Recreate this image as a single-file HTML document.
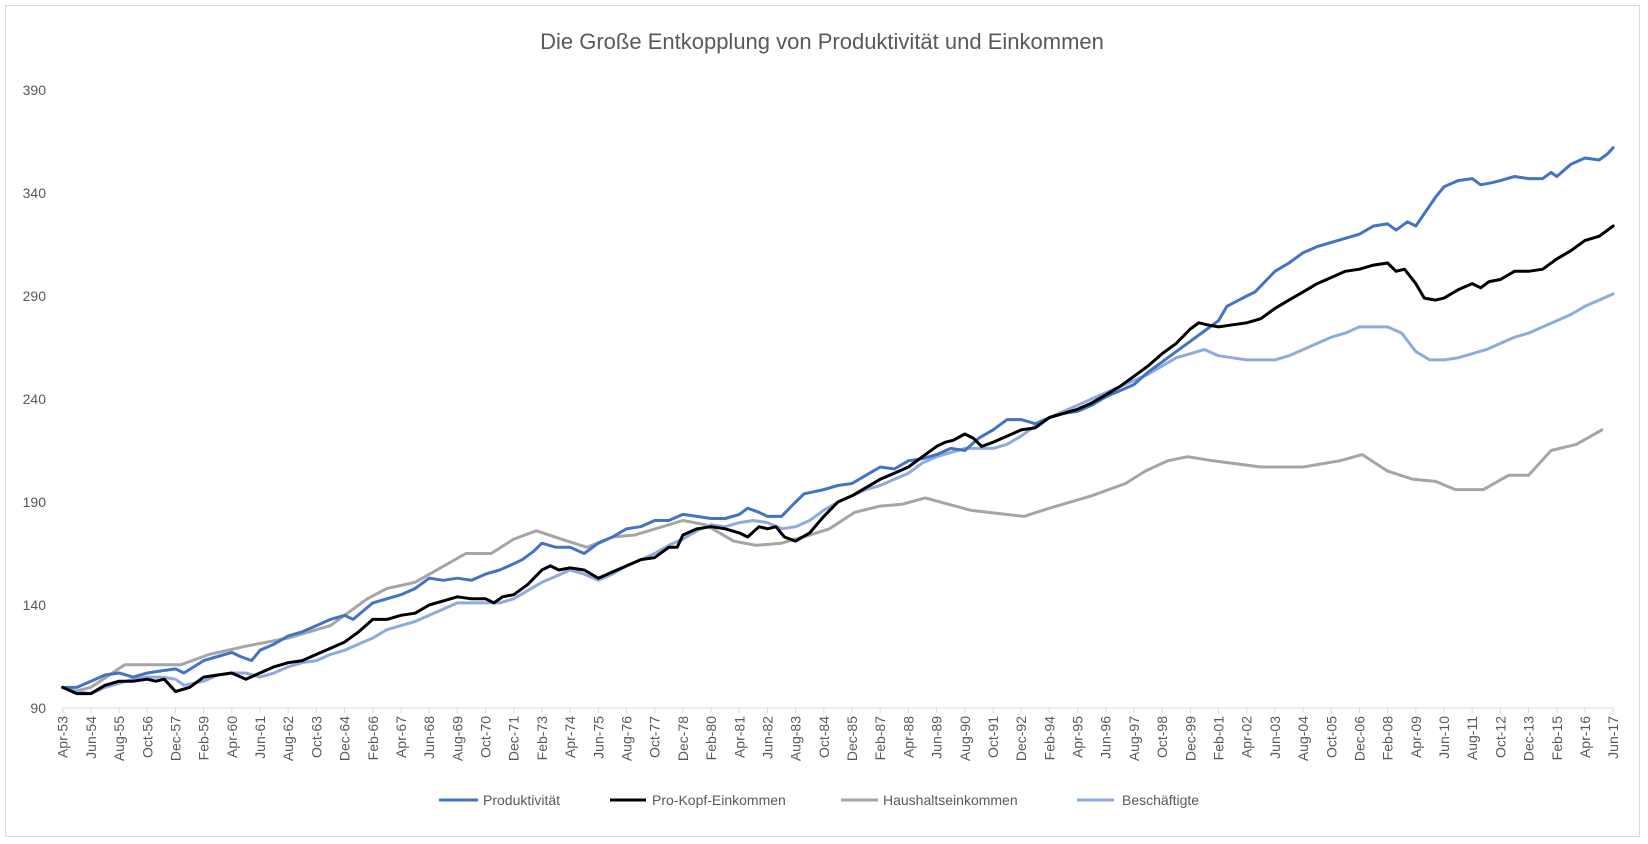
<!DOCTYPE html>
<html><head><meta charset="utf-8"><style>
html,body{margin:0;padding:0;background:#fff;}
svg{display:block;font-family:"Liberation Sans",sans-serif;}
</style></head><body>
<svg id="c" width="1648" height="844" xmlns="http://www.w3.org/2000/svg">
<rect x="5.5" y="5.5" width="1634" height="831" fill="#fff" stroke="#d9d9d9" stroke-width="1"/>
<text x="822" y="49" text-anchor="middle" font-size="22" fill="#595959">Die Große Entkopplung von Produktivität und Einkommen</text>
<g id="ax"></g>
<g id="ser" fill="none" stroke-width="3" stroke-linejoin="round" stroke-linecap="round"></g>
<g font-size="14" fill="#595959">
<line x1="439" y1="800" x2="478" y2="800" stroke="#4472C4" stroke-width="3"/><text x="483" y="805">Produktivität</text>
<line x1="610" y1="800" x2="646" y2="800" stroke="#000" stroke-width="3"/><text x="652" y="805">Pro-Kopf-Einkommen</text>
<line x1="841" y1="800" x2="878" y2="800" stroke="#A5A5A5" stroke-width="3"/><text x="883" y="805">Haushaltseinkommen</text>
<line x1="1077" y1="800" x2="1114" y2="800" stroke="#8FAADC" stroke-width="3"/><text x="1122" y="805">Beschäftigte</text>
</g>
</svg>
<script>
var X0=62.7,DX=28.19,Y0=708,K=2.06;
function X(i){return X0+i*DX;} function Y(v){return Y0-(v-90)*K;}
var ns="http://www.w3.org/2000/svg",ax=document.getElementById('ax'),h='';
for(var v=90;v<=390;v+=50){h+='<text x="46" y="'+(Y(v)+5)+'" text-anchor="end" font-size="14" fill="#595959">'+v+'</text>';}
h+='<line x1="'+X0+'" y1="'+Y0+'" x2="'+X(55)+'" y2="'+Y0+'" stroke="#d9d9d9" stroke-width="1"/>';
var mons=['Jan','Feb','Mar','Apr','May','Jun','Jul','Aug','Sep','Oct','Nov','Dec'];
for(var i=0;i<=55;i++){var m=3+14*i,yr=53+Math.floor(m/12),mm=m%12;var lab=mons[mm]+'-'+(''+(yr%100)).padStart(2,'0');
var x=X(i);h+='<line x1="'+x+'" y1="'+Y0+'" x2="'+x+'" y2="'+(Y0+5)+'" stroke="#d9d9d9"/>';
h+='<text transform="translate('+(x+5)+',716) rotate(-90)" text-anchor="end" font-size="14" fill="#595959">'+lab+'</text>';}
ax.innerHTML=h;
var S={
'#A5A5A5':[[0,100],[0.4,98],[1,100],[2.2,111],[4.2,111],[5.2,116],[6.5,120],[8,124],[9.5,130],[10.8,143],[11.5,148],[12.5,151],[14.3,165],[15.2,165],[16,172],[16.8,176],[17.9,171],[18.6,168],[19.5,173],[20.3,174],[22,181],[22.8,179],[23.8,171],[24.6,169],[25.5,170],[26.5,174],[27.2,177],[28.1,185],[29,188],[29.8,189],[30.6,192],[32.2,186],[34.1,183],[35,187],[36.5,193],[37.7,199],[38.4,205],[39.2,210],[39.9,212],[40.8,210],[42.5,207],[44,207],[45.3,210],[46.1,213],[47,205],[47.9,201],[48.7,200],[49.4,196],[50.4,196],[51.3,203],[52,203],[52.8,215],[53.7,218],[54.6,225]],
'#8FAADC':[[0,100],[0.5,98],[1,97],[1.5,100],[2,102],[2.5,104],[3,105],[3.5,105],[4,104],[4.3,101],[5,103],[5.5,106],[6,107],[6.5,107],[7,105],[7.5,107],[8,110],[8.5,112],[9,113],[9.5,116],[10,118],[10.5,121],[11,124],[11.5,128],[12,130],[12.5,132],[13,135],[13.5,138],[14,141],[15,141],[15.5,141],[16,143],[16.5,147],[17,151],[17.5,154],[18,157],[18.5,155],[19,152],[19.5,155],[20,159],[20.5,162],[21,165],[21.5,169],[22,172],[22.5,176],[23,179],[23.5,178],[24,180],[24.5,181],[25,180],[25.5,177],[26,178],[26.5,181],[27,186],[27.5,190],[28,193],[28.5,196],[29,198],[29.5,201],[30,204],[30.5,209],[31,212],[31.5,214],[32,216],[33,216],[33.5,218],[34,222],[34.5,227],[35,231],[35.5,234],[36,237],[36.5,240],[37,243],[37.5,246],[38,249],[38.5,252],[39,256],[39.5,260],[40,262],[40.5,264],[41,261],[41.5,260],[42,259],[43,259],[43.5,261],[44,264],[44.5,267],[45,270],[45.5,272],[46,275],[47,275],[47.5,272],[48,263],[48.5,259],[49,259],[49.5,260],[50,262],[50.5,264],[51,267],[51.5,270],[52,272],[52.5,275],[53,278],[53.5,281],[54,285],[54.5,288],[55,291]],
'#4472C4':[[0,100],[0.5,100],[1,103],[1.5,106],[2,107],[2.5,105],[3,107],[3.5,108],[4,109],[4.3,107],[5,113],[5.5,115],[6,117],[6.3,115],[6.7,113],[7,118],[7.5,121],[8,125],[8.5,127],[9,130],[9.5,133],[10,135],[10.3,133],[11,141],[11.5,143],[12,145],[12.5,148],[13,153],[13.5,152],[14,153],[14.5,152],[15,155],[15.5,157],[16,160],[16.3,162],[16.7,166],[17,170],[17.5,168],[18,168],[18.5,165],[19,170],[19.5,173],[20,177],[20.5,178],[21,181],[21.5,181],[22,184],[22.5,183],[23,182],[23.5,182],[24,184],[24.3,187],[24.7,185],[25,183],[25.5,183],[26,190],[26.3,194],[27,196],[27.5,198],[28,199],[28.5,203],[29,207],[29.5,206],[30,210],[30.5,211],[31,213],[31.5,216],[32,215],[32.5,221],[33,225],[33.5,230],[34,230],[34.5,228],[35,231],[35.5,233],[36,234],[36.5,237],[37,241],[37.5,244],[38,247],[38.5,253],[39,258],[39.5,263],[40,268],[40.5,273],[41,278],[41.3,285],[42,290],[42.3,292],[43,302],[43.5,306],[44,311],[44.5,314],[45,316],[45.5,318],[46,320],[46.5,324],[47,325],[47.3,322],[47.7,326],[48,324],[48.3,330],[48.7,338],[49,343],[49.5,346],[50,347],[50.3,344],[50.7,345],[51,346],[51.5,348],[52,347],[52.5,347],[52.8,350],[53,348],[53.5,354],[54,357],[54.5,356],[54.8,359],[55,362]],
'#000000':[[0,100],[0.5,97],[1,97],[1.5,101],[2,103],[2.5,103],[3,104],[3.3,103],[3.6,104],[4,98],[4.5,100],[5,105],[5.5,106],[6,107],[6.5,104],[7,107],[7.5,110],[8,112],[8.5,113],[9,116],[9.5,119],[10,122],[10.5,127],[11,133],[11.5,133],[12,135],[12.5,136],[13,140],[13.5,142],[14,144],[14.5,143],[15,143],[15.3,141],[15.6,144],[16,145],[16.5,150],[17,157],[17.3,159],[17.6,157],[18,158],[18.5,157],[19,153],[19.5,156],[20,159],[20.5,162],[21,163],[21.5,168],[21.8,168],[22,174],[22.5,177],[23,178],[23.5,177],[24,175],[24.3,173],[24.7,178],[25,177],[25.3,178],[25.6,173],[26,171],[26.5,175],[27,183],[27.5,190],[28,193],[28.5,197],[29,201],[29.5,204],[30,207],[30.5,212],[31,217],[31.3,219],[31.6,220],[32,223],[32.3,221],[32.6,217],[33,219],[33.5,222],[34,225],[34.5,226],[35,231],[35.5,233],[36,235],[36.5,238],[37,242],[37.5,246],[38,251],[38.5,256],[39,262],[39.5,267],[40,274],[40.3,277],[40.6,276],[41,275],[41.5,276],[42,277],[42.5,279],[43,284],[43.5,288],[44,292],[44.5,296],[45,299],[45.5,302],[46,303],[46.5,305],[47,306],[47.3,302],[47.6,303],[48,296],[48.3,289],[48.7,288],[49,289],[49.5,293],[50,296],[50.3,294],[50.6,297],[51,298],[51.5,302],[52,302],[52.5,303],[53,308],[53.5,312],[54,317],[54.5,319],[55,324]]
};
var g=document.getElementById('ser'),o='';
for(var c in S){var p=S[c].map(function(q){return X(q[0]).toFixed(1)+','+Y(q[1]).toFixed(1);}).join(' ');
o+='<polyline stroke="'+c+'" points="'+p+'"/>';}
g.innerHTML=o;
</script>
</body></html>
